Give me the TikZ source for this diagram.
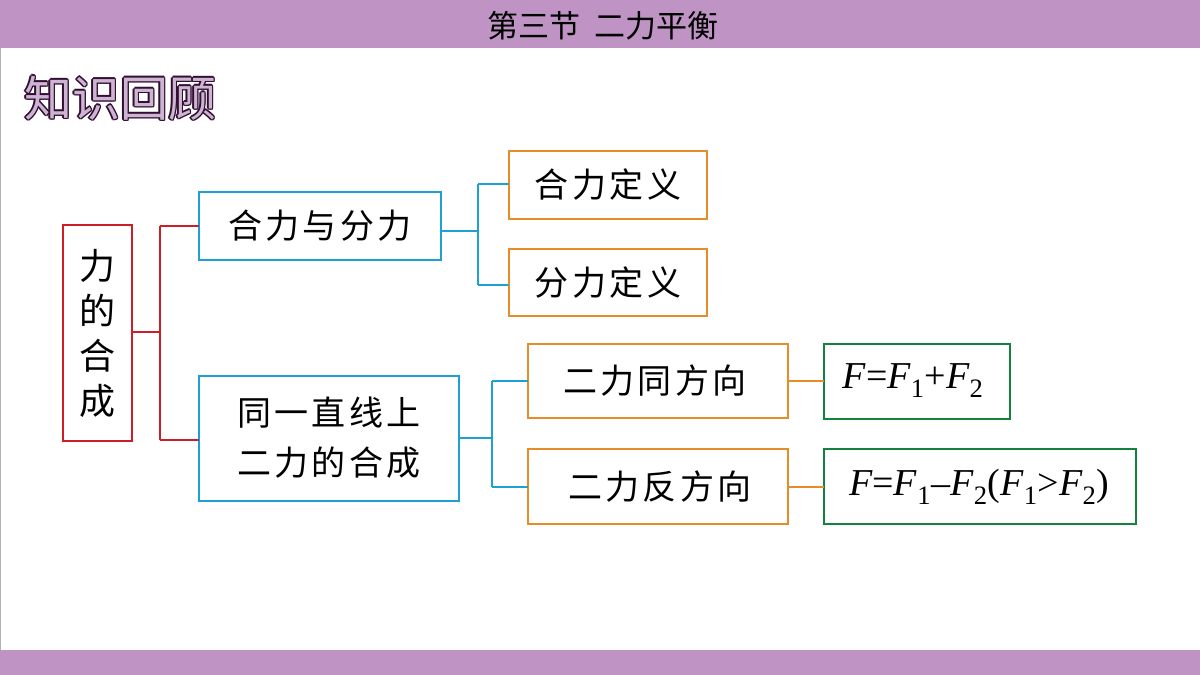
\documentclass[tikz,border=0pt]{standalone}
\usepackage{fontspec}
\newfontfamily\cjk{Noto Sans CJK SC}
\newfontfamily\cjks[LetterSpace=10]{Noto Sans CJK SC}
\newfontfamily\tnr{Liberation Serif}
\definecolor{bar}{RGB}{191,148,196}
\definecolor{hdark}{RGB}{50,15,50}
\definecolor{hlight}{RGB}{205,180,210}
\definecolor{cred}{RGB}{204,30,40}
\definecolor{cblue}{RGB}{30,160,210}
\definecolor{corg}{RGB}{230,140,40}
\definecolor{cgrn}{RGB}{20,130,60}
\begin{document}
\begin{tikzpicture}[x=1pt,y=-1pt,
  bx/.style={draw=#1,line width=1.5pt,fill=white,inner sep=0pt},
  lab/.style={font=\cjks\fontsize{34}{40}\selectfont,anchor=center},
  cn/.style={draw=#1,line width=1.3pt}]
\useasboundingbox (0,0) rectangle (1200,675);
\fill[white] (0,0) rectangle (1200,675);
\fill[bar] (0,0) rectangle (1200,48);
\fill[bar] (0,650) rectangle (1200,675);
\draw[gray!60,line width=1pt] (0.5,48) -- (0.5,650);
\node[font=\cjk\fontsize{31}{33}\selectfont] (title) at (603,26) {第三节\ \ 二力平衡};
% outlined heading
\foreach \dx/\dy in {-1.3/0,1.3/0,0/-1.3,0/1.3,-0.9/-0.9,0.9/0.9,-0.9/0.9,0.9/-0.9}
  \node[anchor=west,inner sep=0pt,font=\cjk\fontsize{48}{50}\selectfont,text=hdark] at (24+\dx,98+\dy) {知识回顾};
\node[anchor=west,inner sep=0pt,font=\cjk\fontsize{48}{50}\selectfont,text=hlight] (head) at (24,98) {知识回顾};
% boxes
\path[bx=cred] (63,225) rectangle (132,441);
\node[font=\cjk\fontsize{36}{45}\selectfont,align=center] (root) at (97.5,333) {力\\的\\合\\成};
\coordinate (rootE) at (132,332);
\path[bx=cblue] (199,192) rectangle (441,260);
\node[lab] (a) at (320,226) {合力与分力};
\path[bx=cblue] (199,376) rectangle (459,501);
\node[lab,align=center,font=\cjks\fontsize{34}{50}\selectfont] (b) at (329,438) {同一直线上\\二力的合成};
\path[bx=corg] (509,151) rectangle (707,219);
\node[lab] (a1) at (608,185) {合力定义};
\path[bx=corg] (509,249) rectangle (707,316);
\node[lab] (a2) at (608,283) {分力定义};
\path[bx=corg] (528,344) rectangle (788,418);
\node[lab] (b1) at (655,381) {二力同方向};
\path[bx=corg] (528,449) rectangle (788,524);
\node[lab] (b2) at (660,487) {二力反方向};
\path[bx=cgrn] (824,344) rectangle (1010,419);
\node[font=\tnr\fontsize{38}{40}\selectfont] (f1) at (913,381) {\textit{F}=\textit{F}\textsubscript{1}+\textit{F}\textsubscript{2}};
\path[bx=cgrn] (824,449) rectangle (1136,524);
\node[font=\tnr\fontsize{38}{40}\selectfont] (f2) at (979,487) {\textit{F}=\textit{F}\textsubscript{1}–\textit{F}\textsubscript{2}(\textit{F}\textsubscript{1}>\textit{F}\textsubscript{2})};
% connectors
\coordinate (aW) at (199,226); \coordinate (bW) at (199,440);
\draw[cn=cred] (rootE) -- (160,332) (160,226) -- (160,440) (160,226) -- (aW) (160,440) -- (bW);
\coordinate (aE) at (441,231); \coordinate (a1W) at (509,184); \coordinate (a2W) at (509,285);
\draw[cn=cblue] (aE) -- (478,231) (478,184) -- (478,285) (478,184) -- (a1W) (478,285) -- (a2W);
\coordinate (bE) at (459,438); \coordinate (b1W) at (528,381); \coordinate (b2W) at (528,487);
\draw[cn=cblue] (bE) -- (492,438) (492,381) -- (492,487) (492,381) -- (b1W) (492,487) -- (b2W);
\coordinate (b1E) at (788,381); \coordinate (f1W) at (824,381);
\coordinate (b2E) at (788,487); \coordinate (f2W) at (824,487);
\draw[cn=corg] (b1E) -- (f1W) (b2E) -- (f2W);
\end{tikzpicture}
\end{document}
